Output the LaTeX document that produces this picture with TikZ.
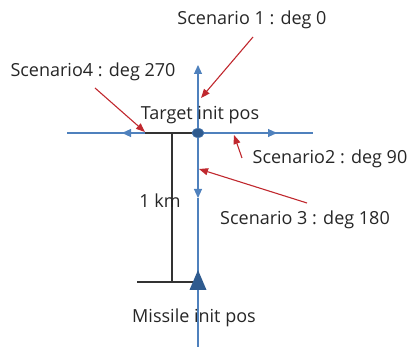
\documentclass[tikz,border=0pt]{standalone}
\usepackage{fontspec}
\setmainfont{Open Sans}
\usetikzlibrary{arrows.meta,shapes.geometric}
\definecolor{axisblue}{HTML}{4F81BD}
\definecolor{dotblue}{HTML}{2F5B8F}
\definecolor{pointred}{HTML}{C0282E}
\definecolor{rulegray}{HTML}{333333}
\tikzset{
  axisline/.style={draw=axisblue, line width=1.1pt},
  axisarrow/.style={axisline, -{Triangle[length=9pt,width=8pt]}},
  redarrow/.style={draw=pointred, line width=1.1pt, -{Triangle[length=9pt,width=7pt]}},
  ruler/.style={draw=rulegray, line width=1.2pt},
  lbl/.style={font=\fontsize{18}{20}\selectfont, text=black!85, inner sep=0pt}
}
\begin{document}
\begin{tikzpicture}[x=1pt,y=-1pt]
\useasboundingbox (0,0) rectangle (413,347);

% axis end points
\coordinate (center) at (198,133);
\coordinate (up) at (198,65);
\coordinate (downtip) at (198,198);
\coordinate (bottom) at (198,347);
\coordinate (farleft) at (67,133);
\coordinate (lefttip) at (122,133);
\coordinate (righttip) at (277,133);
\coordinate (farright) at (313,133);

% blue axes through the target
\draw[axisline] (farleft) -- (farright);
\draw[axisline] (downtip) -- (bottom);
\draw[axisarrow] (center) -- (up);
\draw[axisarrow] (center) -- (downtip);
\draw[axisarrow] (center) -- (lefttip);
\draw[axisarrow] (center) -- (righttip);

% 1 km distance marker
\coordinate (rtop) at (145,133);
\coordinate (rmid) at (172,133);
\coordinate (rlow) at (172,282);
\coordinate (rbl) at (137,282);
\coordinate (rbr) at (198,282);
\draw[ruler] (rtop) -- (center);
\draw[ruler] (rmid) -- (rlow);
\draw[ruler] (rbl) -- (rbr);

% target and missile markers
\node[ellipse, fill=dotblue, draw=axisblue!70!dotblue, line width=0.6pt,
      minimum width=12pt, minimum height=9pt, inner sep=0pt] (target) at (center) {};
\coordinate (missile) at (198,280);
\fill[dotblue] (189.5,290) -- (198,270) -- (206.5,290) -- cycle;

% labels
\node[lbl] (s1) at (252,20) {Scenario 1 : deg 0};
\node[lbl] (s4) at (93,72) {Scenario4 : deg 270};
\node[lbl] (tgt) at (200,115) {Target init pos};
\node[lbl] (s2) at (330,159) {Scenario2 : deg 90};
\node[lbl] (km) at (160,201) {1 km};
\node[lbl] (s3) at (305,220) {Scenario 3 : deg 180};
\node[lbl] (msl) at (194,318) {Missile init pos};

% pointers to the start directions
\coordinate (p1s) at (253,37);  \coordinate (p1e) at (201,98);
\coordinate (p4s) at (95,88);   \coordinate (p4e) at (145,132);
\coordinate (p2s) at (242,158); \coordinate (p2e) at (234,135);
\coordinate (p3s) at (307,203); \coordinate (p3e) at (199,169);
\draw[redarrow] (p1s) -- (p1e);
\draw[redarrow] (p4s) -- (p4e);
\draw[redarrow] (p2s) -- (p2e);
\draw[redarrow] (p3s) -- (p3e);
\end{tikzpicture}
\end{document}
